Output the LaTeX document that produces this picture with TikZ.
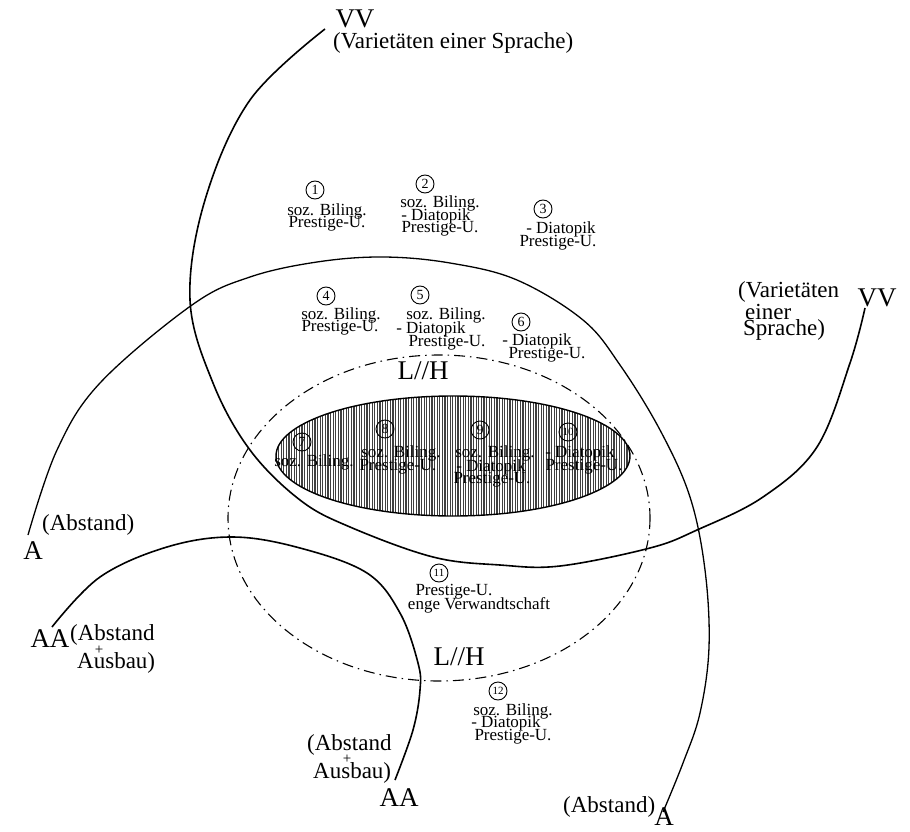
\documentclass[tikz,border=0pt]{standalone}
\usepackage{fontspec}
\setmainfont{Liberation Serif}
\begin{document}
\begin{tikzpicture}[x=1pt,y=-1pt,
  curve/.style={line width=1.6pt, black},
  thin curve/.style={line width=1.3pt, black},
  dd/.style={line width=1.1pt, dash pattern=on 11pt off 5pt on 1.5pt off 5pt},
  sm/.style={inner sep=0pt, font=\fontsize{17}{17}\selectfont},
  num/.style={circle, draw, line width=0.9pt, inner sep=0pt, minimum size=18pt, font=\fontsize{14}{14}\selectfont},
  numw/.style={num, font=\fontsize{11}{11}\selectfont},
  big/.style={inner sep=0pt, font=\fontsize{27}{27}\selectfont},
  mid/.style={inner sep=0pt, font=\fontsize{23}{23}\selectfont},
  plus/.style={inner sep=0pt, font=\fontsize{15}{15}\selectfont}]
\useasboundingbox (0,0) rectangle (910,832);

% shaded ellipse with vertical hatching
\begin{scope}
  \clip (453,456) ellipse [x radius=177, y radius=60];
  \foreach \x in {276,278.6,...,632} \draw[line width=1.1pt, black!75] (\x,390) -- (\x,525);
\end{scope}
\draw[line width=1.4pt] (453,456) ellipse [x radius=177, y radius=60];

% dash-dot ellipse
\draw[dd] (439,518) ellipse [x radius=211, y radius=163];

% VV curve
\draw[curve] plot[smooth, tension=0.6] coordinates {(325,29) (250,100) (205,200) (190,300) (213,383) (250,450) (300,500) (350,527) (433,557) (500,565) (560,566) (650,548) (697,530) (763,497) (817,447) (850,363) (865,308)};

% A curve
\draw[thin curve] plot[smooth, tension=0.6] coordinates {(28,535) (57,450) (100,383) (192,305) (250,277) (317,262) (383,257) (450,263) (517,280) (583,320) (620,365) (660,430) (690,497) (705,570) (709,647) (700,713) (683,763) (663,812)};

% AA curve
\draw[curve] plot[smooth, tension=0.6] coordinates {(52,627) (100,577) (167,547) (233,537) (300,548) (367,573) (400,613) (418,663) (420,690) (413,730) (395,780)};

% big labels
\node[big] (vvtop) at (355,19) {VV};
\node[mid, anchor=west] (vvtoptxt) at (333,43) {(Varietäten einer Sprache)};
\node[big] (vvright) at (877,298) {VV};
\node[mid, anchor=west] (vvr1) at (738,292) {(Varietäten};
\node[mid, anchor=west] (vvr2) at (745,312) {einer};
\node[mid, anchor=west] (vvr3) at (743,330) {Sprache)};
\node[mid, anchor=west] (absl) at (42,525) {(Abstand)};
\node[big] (al) at (33,551) {A};
\node[big] (aal) at (50,639) {AA};
\node[mid, anchor=west] (aal1) at (70,635) {(Abstand};
\node[plus] (aal2) at (99,650) {+};
\node[mid, anchor=west] (aal3) at (77,663) {Ausbau)};
\node[mid, anchor=west] (aab1) at (307,745) {(Abstand};
\node[plus] (aab2) at (347,759) {+};
\node[mid, anchor=west] (aab3) at (313,773) {Ausbau)};
\node[big] (aab) at (399,798) {AA};
\node[mid, anchor=west] (absb) at (563,807) {(Abstand)};
\node[big] (ab) at (664,817) {A};
\node[big] (lhtop) at (423,371) {L//H};
\node[big] (lhbot) at (459,657) {L//H};

% region 1
\node[num] (n1) at (315,190) {1};
\node[sm] (t1a) at (327,211) {soz. Biling.};
\node[sm] (t1b) at (327,224) {Prestige-U.};
% region 2
\node[num] (n2) at (425,184) {2};
\node[sm] (t2a) at (440,203) {soz. Biling.};
\node[sm] (t2b) at (436,216) {- Diatopik};
\node[sm] (t2c) at (440,229) {Prestige-U.};
% region 3
\node[num] (n3) at (543,209) {3};
\node[sm] (t3a) at (561,229) {- Diatopik};
\node[sm] (t3b) at (558,243) {Prestige-U.};
% region 4
\node[num] (n4) at (326,296) {4};
\node[sm] (t4a) at (341,315) {soz. Biling.};
\node[sm] (t4b) at (340,328) {Prestige-U.};
% region 5
\node[num] (n5) at (420,295) {5};
\node[sm] (t5a) at (446,315) {soz. Biling.};
\node[sm] (t5b) at (431,329) {- Diatopik};
\node[sm] (t5c) at (447,343) {Prestige-U.};
% region 6
\node[num] (n6) at (521,322) {6};
\node[sm] (t6a) at (537,341) {- Diatopik};
\node[sm] (t6b) at (547,355) {Prestige-U.};
% region 7
\node[num] (n7) at (302,442) {7};
\node[sm] (t7a) at (314,462) {soz. Biling.};
% region 8
\node[num] (n8) at (385,429) {8};
\node[sm] (t8a) at (401,453) {soz. Biling.};
\node[sm] (t8b) at (398,467) {Prestige-U.};
% region 9
\node[num] (n9) at (480,430) {9};
\node[sm] (t9a) at (495,453) {soz. Biling.};
\node[sm] (t9b) at (491,467) {- Diatopik};
\node[sm] (t9c) at (492,480) {Prestige-U.};
% region 10
\node[numw] (n10) at (568,432) {10};
\node[sm] (t10a) at (580,453) {- Diatopik};
\node[sm] (t10b) at (584,467) {Prestige-U.};
% region 11
\node[numw] (n11) at (439,573) {11};
\node[sm] (t11a) at (454,592) {Prestige-U.};
\node[sm] (t11b) at (479,605) {enge Verwandtschaft};
% region 12
\node[numw] (n12) at (498,691) {12};
\node[sm] (t12a) at (513,711) {soz. Biling.};
\node[sm] (t12b) at (506,723) {- Diatopik};
\node[sm] (t12c) at (513,737) {Prestige-U.};
\end{tikzpicture}
\end{document}
